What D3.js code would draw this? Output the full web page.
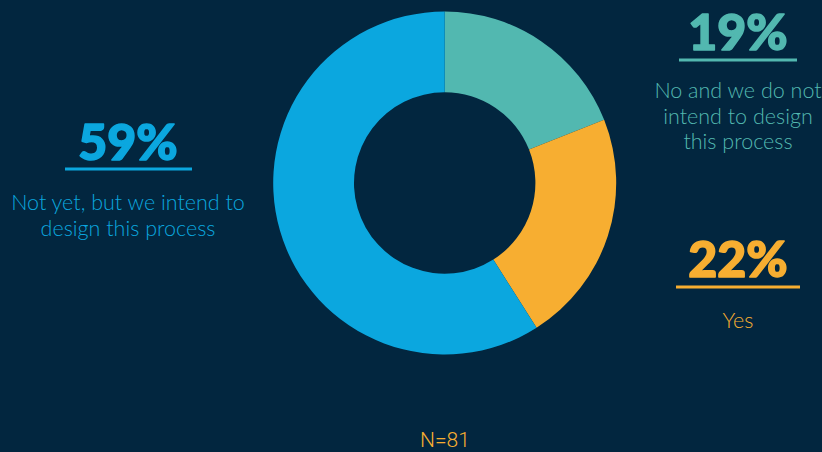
<!DOCTYPE html>
<html>
<head>
<meta charset="utf-8">
<script src="https://cdn.jsdelivr.net/npm/d3@7"></script>
<style>
html,body{margin:0;padding:0;background:#02263f;}
svg{display:block;}
</style>
</head>
<body>
<svg id="chart" width="822" height="452"></svg>
<script>
const categories = ["No and we do not intend to design this process", "Yes", "Not yet, but we intend to design this process"];
const values = [19, 22, 59];
const percentLabels = ["19%", "22%", "59%"];
const labelLines = [["No and we do not", "intend to design", "this process"], ["Yes"], ["Not yet, but we intend to", "design this process"]];
const colors = ["#52b8b0", "#f7ae31", "#0ba7df"];
const sampleNote = "N=81";

const svg = d3.select("#chart");
svg.append("rect").attr("width", 822).attr("height", 452).attr("fill", "#02263f");

const cx = 444.7, cy = 183, rOuter = 171.5, rInner = 90.7;
const pie = d3.pie().sort(null).value(d => d)(values);
const arc = d3.arc().innerRadius(rInner).outerRadius(rOuter);

svg.append("g").attr("transform", `translate(${cx},${cy})`)
  .selectAll("path").data(pie).join("path")
  .attr("d", arc).attr("fill", (d, i) => colors[i]);

const layout = [
  {x: 738, py: 50, uy: 60, ux0: 679, ux1: 797, ty: 98},
  {x: 738, py: 277, uy: 287, ux0: 676, ux1: 800, ty: 328},
  {x: 128, py: 160, uy: 169, ux0: 65, ux1: 192, ty: 210}
];

const lg = svg.append("g");
layout.forEach((L, i) => {
  lg.append("text").attr("x", L.x).attr("y", L.py)
    .attr("text-anchor", "middle")
    .attr("font-family", "Lato, 'Noto Sans', sans-serif")
    .attr("font-weight", 900).attr("font-size", 50)
    .attr("fill", colors[i])
    .attr("stroke", colors[i]).attr("stroke-width", 1.6)
    .attr("stroke-linejoin", "round")
    .text(percentLabels[i]);
  lg.append("line").attr("x1", L.ux0).attr("x2", L.ux1)
    .attr("y1", L.uy).attr("y2", L.uy)
    .attr("stroke", colors[i]).attr("stroke-width", 3);
  labelLines[i].forEach((t, j) => {
    lg.append("text").attr("x", L.x).attr("y", L.ty + j * 25.5)
      .attr("text-anchor", "middle")
      .attr("font-family", "Lato, 'Noto Sans', sans-serif")
      .attr("font-weight", 300).attr("font-size", 21.5)
      .attr("fill", colors[i]).text(t);
  });
});

svg.append("text").attr("x", 445).attr("y", 446.5)
  .attr("text-anchor", "middle")
  .attr("font-family", "Roboto, sans-serif")
  .attr("font-weight", 300)
  .attr("font-size", 21).attr("fill", colors[1]).text(sampleNote);
</script>
</body>
</html>
